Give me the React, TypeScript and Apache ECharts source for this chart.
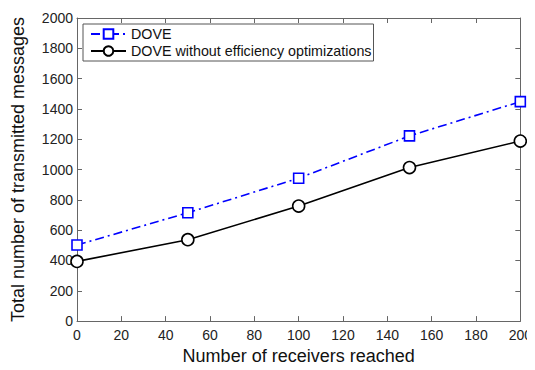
import React, { useEffect, useRef } from "react";
import * as echarts from "echarts";

const xValues = [0, 50, 100, 150, 200];
const doveValues = [502, 715, 943, 1222, 1448];
const doveNoOptValues = [394, 537, 759, 1013, 1188];
const seriesNames = ["DOVE", "DOVE without efficiency optimizations"];

export default function App() {
  const ref = useRef<HTMLDivElement>(null);
  useEffect(() => {
    const chart = echarts.init(ref.current!, null, { renderer: "svg" });
    const font = "Liberation Sans, Arial, Helvetica, sans-serif";
    const axisColor = "#666";
    const mkAxis = (extra: any) => ({
      axisLine: { show: true, onZero: false, lineStyle: { color: axisColor, width: 1 } },
      axisTick: { show: true, inside: true, length: 5, lineStyle: { color: axisColor } },
      splitLine: { show: false },
      ...extra,
    });
    const plain = (v: number) => String(v);
    chart.setOption({
      animation: false,
      backgroundColor: "#fff",
      textStyle: { fontFamily: font },
      grid: { left: 77, right: 12, top: 18, bottom: 46, containLabel: false },
      legend: {
        left: 83,
        top: 24,
        orient: "vertical",
        backgroundColor: "#fff",
        borderColor: "#555",
        borderWidth: 1,
        borderRadius: 0,
        padding: [3, 2, 3, 7],
        itemGap: 3,
        itemWidth: 35,
        itemHeight: 12,
        textStyle: { fontFamily: font, fontSize: 14.3, color: "#111" },
        data: seriesNames,
      },
      xAxis: [
        mkAxis({
          type: "value",
          min: 0,
          max: 200,
          interval: 20,
          position: "bottom",
          name: "Number of receivers reached",
          nameLocation: "middle",
          nameGap: 23,
          nameTextStyle: { fontFamily: font, fontSize: 18, color: "#111" },
          axisLabel: { fontFamily: font, fontSize: 14, color: "#222", margin: 7, formatter: plain },
        }),
        mkAxis({
          type: "value",
          min: 0,
          max: 200,
          interval: 20,
          position: "top",
          axisLabel: { show: false },
        }),
      ],
      yAxis: [
        mkAxis({
          type: "value",
          min: 0,
          max: 2000,
          interval: 200,
          position: "left",
          name: "Total number of transmitted messages",
          nameLocation: "middle",
          nameGap: 50,
          nameTextStyle: { fontFamily: font, fontSize: 18, color: "#111" },
          axisLabel: { fontFamily: font, fontSize: 14, color: "#222", margin: 4, formatter: plain },
        }),
        mkAxis({
          type: "value",
          min: 0,
          max: 2000,
          interval: 200,
          position: "right",
          axisLabel: { show: false },
        }),
      ],
      series: [
        {
          name: seriesNames[0],
          type: "line",
          xAxisIndex: 0,
          yAxisIndex: 0,
          data: xValues.map((x, i) => [x, doveValues[i]]),
          symbol: "rect",
          symbolSize: 10,
          itemStyle: { color: "#fff", borderColor: "#0000ff", borderWidth: 1.6 },
          lineStyle: { color: "#0000ff", width: 1.6, type: [9, 4, 2, 4] },
          color: "#0000ff",
          z: 3,
        },
        {
          name: seriesNames[1],
          type: "line",
          xAxisIndex: 0,
          yAxisIndex: 0,
          data: xValues.map((x, i) => [x, doveNoOptValues[i]]),
          symbol: "circle",
          symbolSize: 12,
          itemStyle: { color: "#fff", borderColor: "#000", borderWidth: 1.6 },
          lineStyle: { color: "#000", width: 1.6, type: "solid" },
          color: "#000",
          z: 2,
        },
      ],
    });
    return () => chart.dispose();
  }, []);
  return <div ref={ref} style={{ width: 535, height: 370, margin: -8 }} />;
}
